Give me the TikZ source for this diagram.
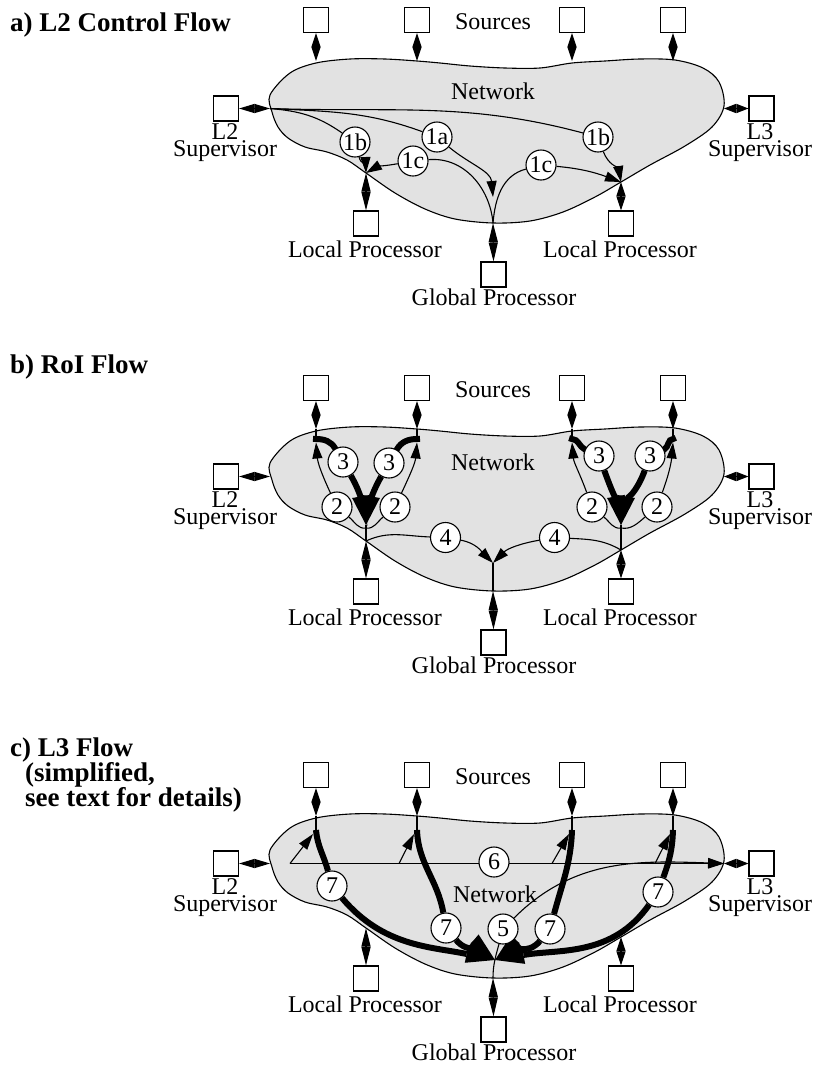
\documentclass[tikz,border=0pt]{standalone}
\usepackage{fontspec}
\setmainfont{Liberation Serif}
\usetikzlibrary{arrows.meta}

\pgfdeclarelayer{back}
\pgfdeclarelayer{mid}
\pgfsetlayers{back,mid,main}

\tikzset{
  netfill/.style={draw=black, line width=1.1pt, fill={rgb,255:red,226;green,226;blue,226}},
  box/.style={draw, line width=1.1pt, fill=white, minimum width=25pt, minimum height=25pt, inner sep=0pt},
  txt/.style={inner sep=0pt, anchor=base, font=\fontsize{24}{24}\selectfont},
  sup/.style={inner sep=0pt, anchor=north, align=center, font=\fontsize{24}{17}\selectfont},
  title/.style={inner sep=0pt, anchor=base west, font=\fontsize{27}{27}\selectfont\bfseries},
  num/.style={circle, draw, line width=1.1pt, fill=white, minimum size=30pt, inner sep=0pt, font=\fontsize{24}{24}\selectfont},
  bidi/.style={line width=1.1pt, arrows={Triangle[length=#1,width=9pt]-Triangle[length=#1,width=9pt]}},
  ln/.style={line width=1.1pt},
  flow/.style={ln, -{Triangle[length=16pt,width=10pt]}},
  heavy/.style={line width=6pt},
  heavyflow/.style={heavy, -{Triangle[length=29pt,width=18pt,line width=0pt]}},
}

% network cloud, its sources, supervisors and processors; #1 is a name prefix
\newcommand\netbase[1]{%
  \begin{pgfonlayer}{back}
    \path[netfill] plot[smooth cycle, tension=0.55] coordinates {
      (270,95) (272,112) (278,127) (288,138) (305,147) (327,152) (347,160)
      (366,173) (395,193) (425,209) (455,219) (493,223) (530,221) (563,212)
      (595,197) (621,182) (650,165) (685,146) (712,127) (724,106) (719,82)
      (703,68) (675,60) (640,59) (605,61) (572,63) (540,68) (505,68)
      (470,66) (440,63) (417,61) (385,59) (350,59) (316,63) (290,73)};
  \end{pgfonlayer}
  \node[box] (#1-s1) at (316,20) {};
  \node[box] (#1-s2) at (417,20) {};
  \node[box] (#1-s3) at (572,20) {};
  \node[box] (#1-s4) at (673,20) {};
  \node[box] (#1-l2) at (226,108.5) {};
  \node[box] (#1-l3) at (761.5,108.5) {};
  \node[box] (#1-lp1) at (366,223.5) {};
  \node[box] (#1-lp2) at (621,223.5) {};
  \node[box] (#1-gp) at (493.5,274.5) {};
  \node[txt] (#1-src) at (493,29) {Sources};
  \node[sup] (#1-l2t) at (225,123.5) {L2\\Supervisor};
  \node[sup] (#1-l3t) at (760,123.5) {L3\\Supervisor};
  \node[txt] (#1-lpa) at (365,257) {Local Processor};
  \node[txt] (#1-lpb) at (620,257) {Local Processor};
  \node[txt] (#1-gpa) at (494,305) {Global Processor};
  \coordinate (#1-q1) at (316,61);
  \coordinate (#1-q2) at (417,61);
  \coordinate (#1-q3) at (572,61);
  \coordinate (#1-q4) at (673,61);
  \coordinate (#1-pl2) at (270,108.5);
  \coordinate (#1-pl3) at (724,108.5);
  \coordinate (#1-plp1) at (366,173);
  \coordinate (#1-plp2) at (621,182);
  \coordinate (#1-pgp) at (493,223);
  \draw[bidi=14pt] (#1-s1.south) -- (#1-q1);
  \draw[bidi=14pt] (#1-s2.south) -- (#1-q2);
  \draw[bidi=14pt] (#1-s3.south) -- (#1-q3);
  \draw[bidi=14pt] (#1-s4.south) -- (#1-q4);
  \draw[bidi=15.5pt] (#1-l2.east) -- (#1-pl2);
  \draw[bidi=12pt] (#1-pl3) -- (#1-l3.west);
  \draw[bidi=18.5pt] (#1-plp1) -- (#1-lp1.north);
  \draw[bidi=14pt] (#1-plp2) -- (#1-lp2.north);
  \draw[bidi=19pt] (#1-pgp) -- (#1-gp.north);
}

\begin{document}
\begin{tikzpicture}[x=1pt,y=-1pt]
\useasboundingbox (0,0) rectangle (813,1066);
\begin{pgfonlayer}{back}
  \fill[white] (0,0) rectangle (813,1066);
\end{pgfonlayer}

% panel titles
\node[title] (ta) at (10,31) {a) L2 Control Flow};
\node[title] (tb) at (10,373) {b) RoI Flow};
\node[title] (tc1) at (10,756) {c) L3 Flow};
\node[title] (tc2) at (25,781) {(simplified,};
\node[title] (tc3) at (25,806) {see text for details)};

% ---------- a) L2 control flow ----------
\begin{scope}
  \netbase{a}
  \node[txt] (a-net) at (493,99) {Network};
  \node[num] (a-1bl) at (355,142) {1b};
  \node[num] (a-1a) at (437,137) {1a};
  \node[num] (a-1br) at (598,137) {1b};
  \node[num] (a-1cl) at (413,161) {1c};
  \node[num] (a-1cr) at (541,165) {1c};
  \coordinate (a-k) at (493,197);
  \begin{pgfonlayer}{mid}
    \draw[ln] (a-pl2) to[out=-5,in=145] (a-1bl);
    \draw[flow] (a-1bl) to[out=-75,in=92] (a-plp1);
    \draw[ln] (a-pl2) to[out=-3,in=160] (a-1a);
    \draw[flow] (a-1a) to[out=-40,in=95] (a-k);
    \draw[ln] (a-pl2) to[out=-2,in=165] (a-1br);
    \draw[flow] (a-1br) to[out=-70,in=100] (a-plp2);
    \draw[ln] (a-pgp) to[out=95,in=5] (a-1cl);
    \draw[flow] (a-1cl) to[out=190,in=30] (a-plp1);
    \draw[ln] (a-pgp) to[out=85,in=195] (a-1cr);
    \draw[flow] (a-1cr) to[out=-5,in=160] (a-plp2);
  \end{pgfonlayer}
\end{scope}

% ---------- b) RoI flow ----------
\begin{scope}[shift={(0,368)}]
  \netbase{b}
  \node[txt] (b-net) at (493,102) {Network};
  \coordinate (b-t1) at (316,71);
  \coordinate (b-t2) at (417,71);
  \coordinate (b-t3) at (572,71);
  \coordinate (b-t4) at (673,71);
  \coordinate (b-u1) at (316,74.5);
  \coordinate (b-u2) at (417,74.5);
  \coordinate (b-u3) at (572,74.5);
  \coordinate (b-u4) at (673,74.5);
  \coordinate (b-k1) at (366,157);
  \coordinate (b-j1) at (366,160);
  \coordinate (b-k2) at (621,157);
  \coordinate (b-j2) at (621,160);
  \coordinate (b-k4) at (493,195);
  \node[num] (b-3a) at (343,94) {3};
  \node[num] (b-3b) at (389,95) {3};
  \node[num] (b-2a) at (337,139) {2};
  \node[num] (b-2b) at (395,139) {2};
  \node[num] (b-3c) at (599,88) {3};
  \node[num] (b-3d) at (650,88) {3};
  \node[num] (b-2c) at (592,139) {2};
  \node[num] (b-2d) at (657,139) {2};
  \node[num] (b-4a) at (445.5,169.5) {4};
  \node[num] (b-4b) at (554.5,169.5) {4};
  \begin{pgfonlayer}{mid}
    \draw[ln] (b-q1) -- (b-t1);
    \draw[ln] (b-q2) -- (b-t2);
    \draw[ln] (b-q3) -- (b-t3);
    \draw[ln] (b-q4) -- (b-t4);
    % left group
    \draw[heavy, line cap=rect] (b-t1) to[out=0,in=120] (b-3a);
    \draw[heavyflow] (b-3a) to[out=-60,in=100] (b-k1);
    \draw[heavy, line cap=rect] (b-t2) to[out=180,in=60] (b-3b);
    \draw[heavyflow] (b-3b) to[out=-120,in=80] (b-k1);
    \draw[ln] (b-j1) to[out=190,in=-40] (b-2a);
    \draw[flow] (b-2a) to[out=115,in=-85] (b-u1);
    \draw[ln] (b-j1) to[out=-10,in=-140] (b-2b);
    \draw[flow] (b-2b) to[out=65,in=-95] (b-u2);
    \draw[ln] (b-k1) -- (b-plp1);
    % right group
    \draw[heavy, line cap=rect] (b-t3) to[out=0,in=155] (b-3c);
    \draw[heavyflow] (b-3c) to[out=-70,in=100] (b-k2);
    \draw[heavy, line cap=rect] (b-t4) to[out=180,in=25] (b-3d);
    \draw[heavyflow] (b-3d) to[out=-110,in=80] (b-k2);
    \draw[ln] (b-j2) to[out=190,in=-40] (b-2c);
    \draw[flow] (b-2c) to[out=110,in=-85] (b-u3);
    \draw[ln] (b-j2) to[out=-10,in=-140] (b-2d);
    \draw[flow] (b-2d) to[out=70,in=-95] (b-u4);
    \draw[ln] (b-k2) -- (b-plp2);
    % towards the global processor
    \draw[ln] (b-plp1) to[out=25,in=178] (b-4a);
    \draw[flow] (b-4a) to[out=-10,in=135] (b-k4);
    \draw[ln] (b-plp2) to[out=150,in=-3] (b-4b);
    \draw[flow] (b-4b) to[out=190,in=45] (b-k4);
    \draw[ln] (b-k4) -- (b-pgp);
  \end{pgfonlayer}
\end{scope}

% ---------- c) L3 flow ----------
\begin{scope}[shift={(0,755)}]
  \netbase{c}
  \node[txt] (c-net) at (495,147) {Network};
  \coordinate (c-t1) at (316,75);
  \coordinate (c-t2) at (417,75);
  \coordinate (c-t3) at (572,75);
  \coordinate (c-t4) at (673,75);
  \coordinate (c-h1) at (290,108.5);
  \coordinate (c-h2) at (399,108.5);
  \coordinate (c-h3) at (552,108.5);
  \coordinate (c-h4) at (655,108.5);
  \coordinate (c-v1) at (313,79);
  \coordinate (c-v2) at (414,79);
  \coordinate (c-v3) at (569,79);
  \coordinate (c-v4) at (670,79);
  \coordinate (c-k) at (495,205);
  \node[num] (c-6) at (494,107) {6};
  \node[num] (c-7a) at (332,131) {7};
  \node[num] (c-7b) at (446,173) {7};
  \node[num] (c-5) at (503,174) {5};
  \node[num] (c-7c) at (550,174) {7};
  \node[num] (c-7d) at (658,137) {7};
  \begin{pgfonlayer}{mid}
    \draw[ln] (c-q1) -- (c-t1);
    \draw[ln] (c-q2) -- (c-t2);
    \draw[ln] (c-q3) -- (c-t3);
    \draw[ln] (c-q4) -- (c-t4);
    \draw[flow] (c-h1) -- (c-pl3);
    \draw[flow] (c-h1) -- (c-v1);
    \draw[flow] (c-h2) -- (c-v2);
    \draw[flow] (c-h3) -- (c-v3);
    \draw[flow] (c-h4) -- (c-v4);
    \draw[heavy] (c-t1) to[out=-85,in=105] (c-7a);
    \draw[heavyflow] (c-7a) to[out=-50,in=168] (c-k);
    \draw[heavy] (c-t2) to[out=-88,in=100] (c-7b);
    \draw[heavyflow] (c-7b) to[out=-50,in=140] (c-k);
    \draw[heavy] (c-t3) to[out=-92,in=75] (c-7c);
    \draw[heavyflow] (c-7c) to[out=-130,in=40] (c-k);
    \draw[heavy] (c-t4) to[out=-92,in=70] (c-7d);
    \draw[heavyflow] (c-7d) to[out=-125,in=10] (c-k);
    \draw[ln] (c-pgp) to[out=90,in=-105] (c-5);
    \draw[flow] (c-5) to[out=45,in=178] (c-pl3);
  \end{pgfonlayer}
\end{scope}
\end{tikzpicture}
\end{document}
